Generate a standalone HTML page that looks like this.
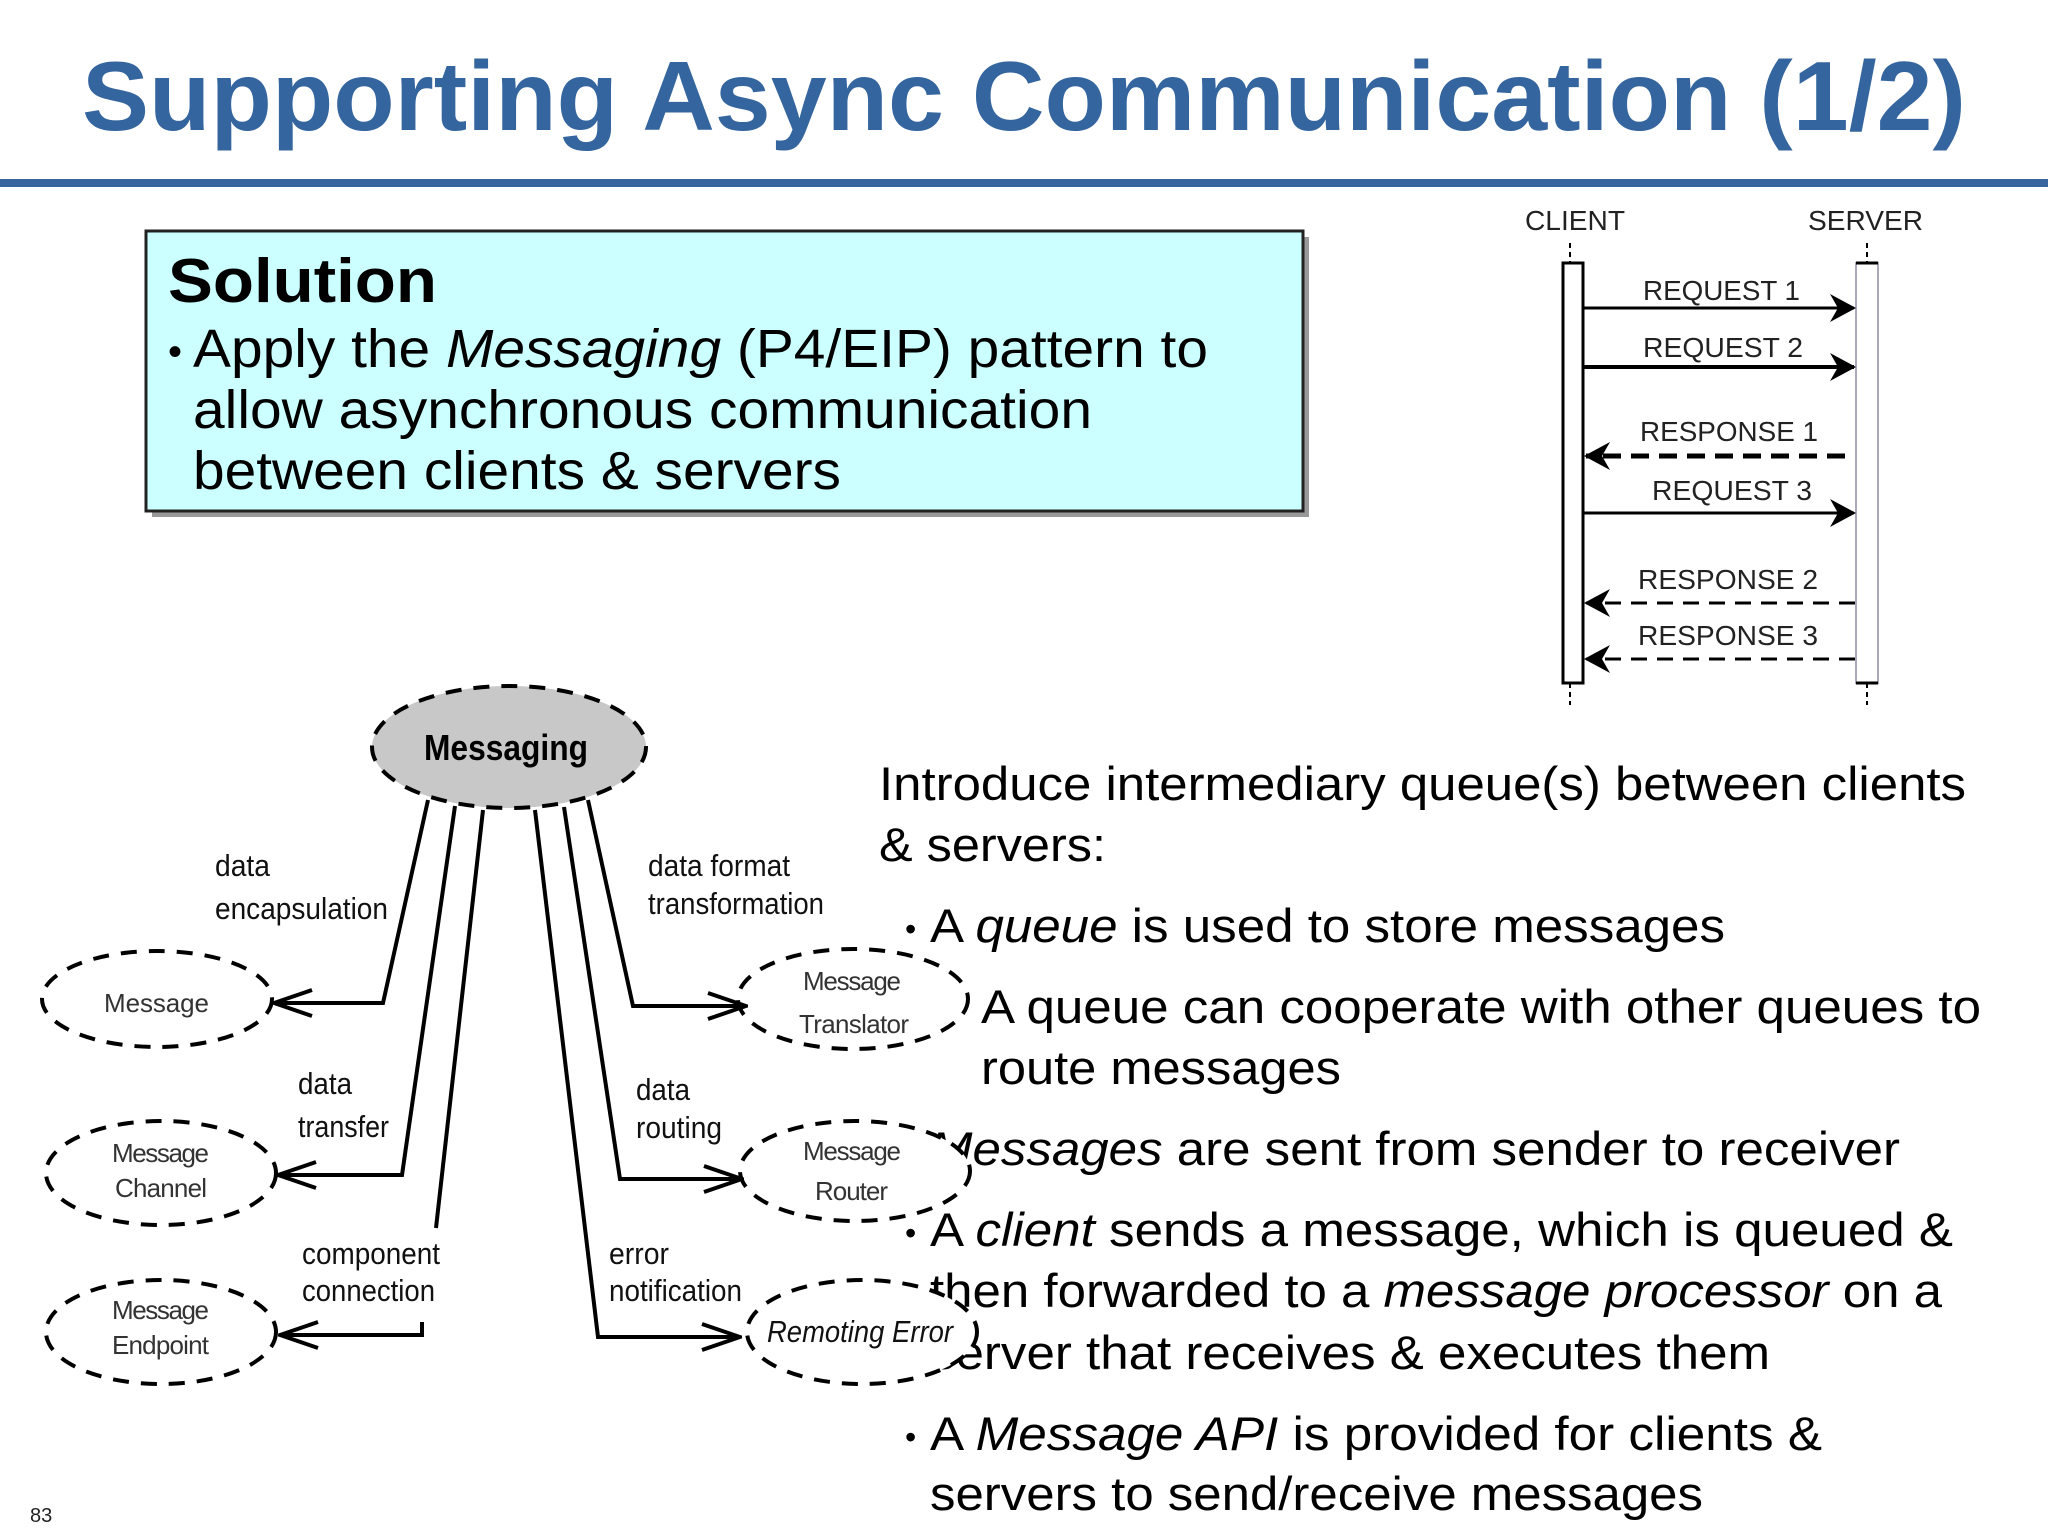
<!DOCTYPE html>
<html><head><meta charset="utf-8"><style>html,body{margin:0;padding:0;background:#fff}svg{display:block}</style></head>
<body>
<svg width="2048" height="1536" viewBox="0 0 2048 1536" xmlns="http://www.w3.org/2000/svg" font-family="Liberation Sans, sans-serif">
<defs>
<marker id="ah" markerWidth="26" markerHeight="28" refX="24" refY="14" orient="auto" markerUnits="userSpaceOnUse"><path d="M0,0 L26,14 L0,28 L8,14 Z" fill="#000"/></marker>
<marker id="oa" markerWidth="42" markerHeight="32" refX="40" refY="16" orient="auto" markerUnits="userSpaceOnUse"><path d="M2,3 L40,16 L2,29" fill="none" stroke="#000" stroke-width="4"/></marker>
</defs>
<!-- Title -->
<text x="82" y="130" font-size="98" font-weight="bold" fill="#34659e" textLength="1884" lengthAdjust="spacingAndGlyphs">Supporting Async Communication (1/2)</text>
<rect x="0" y="179" width="2048" height="8" fill="#3a66a0"/>
<!-- Solution box -->
<rect x="152" y="237" width="1157" height="280" fill="#999"/>
<rect x="146" y="231" width="1157" height="280" fill="#ccffff" stroke="#222" stroke-width="3"/>
<text x="168" y="302" font-size="62" font-weight="bold" textLength="269" lengthAdjust="spacingAndGlyphs">Solution</text>
<text x="168" y="365" font-size="40">•</text>
<text x="193" y="367" font-size="54" textLength="1015" lengthAdjust="spacingAndGlyphs">Apply the <tspan font-style="italic">Messaging</tspan> (P4/EIP) pattern to</text>
<text x="193" y="428" font-size="54" textLength="899" lengthAdjust="spacingAndGlyphs">allow asynchronous communication</text>
<text x="193" y="489" font-size="54" textLength="648" lengthAdjust="spacingAndGlyphs">between clients &amp; servers</text>
<!-- Sequence diagram -->
<g fill="#222" font-size="28">
<text x="1525" y="230" textLength="100" lengthAdjust="spacingAndGlyphs">CLIENT</text>
<text x="1808" y="230" textLength="115" lengthAdjust="spacingAndGlyphs">SERVER</text>
<text x="1643" y="300" textLength="157" lengthAdjust="spacingAndGlyphs">REQUEST 1</text>
<text x="1643" y="357" textLength="160" lengthAdjust="spacingAndGlyphs">REQUEST 2</text>
<text x="1640" y="441" textLength="178" lengthAdjust="spacingAndGlyphs">RESPONSE 1</text>
<text x="1652" y="500" textLength="160" lengthAdjust="spacingAndGlyphs">REQUEST 3</text>
<text x="1638" y="589" textLength="180" lengthAdjust="spacingAndGlyphs">RESPONSE 2</text>
<text x="1638" y="645" textLength="180" lengthAdjust="spacingAndGlyphs">RESPONSE 3</text>
</g>
<g stroke="#000" stroke-width="2">
<line x1="1570" y1="243" x2="1570" y2="263" stroke-dasharray="5,4"/>
<line x1="1867" y1="243" x2="1867" y2="263" stroke-dasharray="5,4"/>
<line x1="1570" y1="683" x2="1570" y2="705" stroke-dasharray="5,4"/>
<line x1="1867" y1="683" x2="1867" y2="705" stroke-dasharray="5,4"/>
</g>
<rect x="1563" y="263" width="20" height="420" fill="#fff" stroke="#000" stroke-width="3"/>
<rect x="1856" y="263" width="22" height="420" fill="#fff" stroke="#aab" stroke-width="2"/>
<line x1="1856" y1="263" x2="1878" y2="263" stroke="#000" stroke-width="3"/>
<line x1="1856" y1="683" x2="1878" y2="683" stroke="#000" stroke-width="3"/>
<g stroke="#000" fill="none">
<line x1="1584" y1="308" x2="1854" y2="308" stroke-width="3" marker-end="url(#ah)"/>
<line x1="1584" y1="367" x2="1854" y2="367" stroke-width="4" marker-end="url(#ah)"/>
<line x1="1845" y1="456" x2="1586" y2="456" stroke-width="5" stroke-dasharray="18,10" marker-end="url(#ah)"/>
<line x1="1584" y1="513" x2="1854" y2="513" stroke-width="3" marker-end="url(#ah)"/>
<line x1="1855" y1="603" x2="1586" y2="603" stroke-width="3" stroke-dasharray="16,10" marker-end="url(#ah)"/>
<line x1="1855" y1="659" x2="1586" y2="659" stroke-width="3" stroke-dasharray="16,10" marker-end="url(#ah)"/>
</g>
<!-- Right text -->
<g font-size="47">
<text x="879" y="800" textLength="1087" lengthAdjust="spacingAndGlyphs">Introduce intermediary queue(s) between clients</text>
<text x="879" y="861" textLength="227" lengthAdjust="spacingAndGlyphs">&amp; servers:</text>
<text x="905" y="940" font-size="32">•</text>
<text x="930" y="942" textLength="795" lengthAdjust="spacingAndGlyphs">A <tspan font-style="italic">queue</tspan> is used to store messages</text>
<text x="981" y="1023" textLength="1000" lengthAdjust="spacingAndGlyphs">A queue can cooperate with other queues to</text>
<text x="981" y="1084" textLength="360" lengthAdjust="spacingAndGlyphs">route messages</text>
<text x="930" y="1165" textLength="970" lengthAdjust="spacingAndGlyphs"><tspan font-style="italic">Messages</tspan> are sent from sender to receiver</text>
<text x="905" y="1244" font-size="32">•</text>
<text x="930" y="1246" textLength="1023" lengthAdjust="spacingAndGlyphs">A <tspan font-style="italic">client</tspan> sends a message, which is queued &amp;</text>
<text x="930" y="1307" textLength="1012" lengthAdjust="spacingAndGlyphs">then forwarded to a <tspan font-style="italic">message processor</tspan> on a</text>
<text x="930" y="1369" textLength="840" lengthAdjust="spacingAndGlyphs">server that receives &amp; executes them</text>
<text x="905" y="1448" font-size="32">•</text>
<text x="930" y="1450" textLength="892" lengthAdjust="spacingAndGlyphs">A <tspan font-style="italic">Message API</tspan> is provided for clients &amp;</text>
<text x="930" y="1510" textLength="773" lengthAdjust="spacingAndGlyphs">servers to send/receive messages</text>
</g>
<!-- Ellipses -->
<g stroke="#000" stroke-width="4" stroke-dasharray="16,12">
<ellipse cx="509" cy="747" rx="137" ry="61" fill="#c8c8c8"/>
<ellipse cx="157" cy="999" rx="115" ry="48" fill="#fff"/>
<ellipse cx="161" cy="1173" rx="115" ry="52" fill="#fff"/>
<ellipse cx="161" cy="1332" rx="115" ry="52" fill="#fff"/>
<ellipse cx="853" cy="999" rx="115" ry="50" fill="#fff"/>
<ellipse cx="855" cy="1171" rx="115" ry="50" fill="#fff"/>
<ellipse cx="862" cy="1332" rx="115" ry="52" fill="#fff"/>
</g>
<!-- Diagram lines -->
<g stroke="#000" stroke-width="4" fill="none">
<polyline points="428,800 383,1003 274,1003" marker-end="url(#oa)"/>
<polyline points="455,806 402,1175 278,1175" marker-end="url(#oa)"/>
<polyline points="483,810 436,1228"/>
<polyline points="422,1322 422,1335 280,1335" marker-end="url(#oa)"/>
<polyline points="535,810 598,1337 740,1337" marker-end="url(#oa)"/>
<polyline points="564,807 620,1179 742,1179" marker-end="url(#oa)"/>
<polyline points="588,800 633,1006 746,1006" marker-end="url(#oa)"/>
</g>
<text x="424" y="760" font-size="36" font-weight="bold" textLength="164" lengthAdjust="spacingAndGlyphs">Messaging</text>
<g font-size="31" fill="#111">
<text x="215" y="876" textLength="55" lengthAdjust="spacingAndGlyphs">data</text>
<text x="215" y="919" textLength="173" lengthAdjust="spacingAndGlyphs">encapsulation</text>
<text x="648" y="876" textLength="142" lengthAdjust="spacingAndGlyphs">data format</text>
<text x="648" y="914" textLength="176" lengthAdjust="spacingAndGlyphs">transformation</text>
<text x="298" y="1094" textLength="54" lengthAdjust="spacingAndGlyphs">data</text>
<text x="298" y="1137" textLength="91" lengthAdjust="spacingAndGlyphs">transfer</text>
<text x="636" y="1100" textLength="54" lengthAdjust="spacingAndGlyphs">data</text>
<text x="636" y="1138" textLength="86" lengthAdjust="spacingAndGlyphs">routing</text>
<text x="302" y="1264" textLength="138" lengthAdjust="spacingAndGlyphs">component</text>
<text x="302" y="1301" textLength="133" lengthAdjust="spacingAndGlyphs">connection</text>
<text x="609" y="1264" textLength="60" lengthAdjust="spacingAndGlyphs">error</text>
<text x="609" y="1301" textLength="133" lengthAdjust="spacingAndGlyphs">notification</text>
</g>
<g font-size="26" fill="#333">
<text x="104" y="1012" textLength="105" lengthAdjust="spacing">Message</text>
<text x="112" y="1162" textLength="97" lengthAdjust="spacing">Message</text>
<text x="115" y="1197" textLength="92" lengthAdjust="spacing">Channel</text>
<text x="112" y="1319" textLength="97" lengthAdjust="spacing">Message</text>
<text x="112" y="1354" textLength="97" lengthAdjust="spacing">Endpoint</text>
<text x="803" y="990" textLength="98" lengthAdjust="spacing">Message</text>
<text x="799" y="1033" textLength="110" lengthAdjust="spacing">Translator</text>
<text x="803" y="1160" textLength="98" lengthAdjust="spacing">Message</text>
<text x="815" y="1200" textLength="73" lengthAdjust="spacing">Router</text>
</g>
<text x="767" y="1342" font-size="31" font-style="italic" fill="#111" textLength="186" lengthAdjust="spacingAndGlyphs">Remoting Error</text>
<text x="30" y="1522" font-size="20" fill="#222">83</text>
</svg>
</body></html>
